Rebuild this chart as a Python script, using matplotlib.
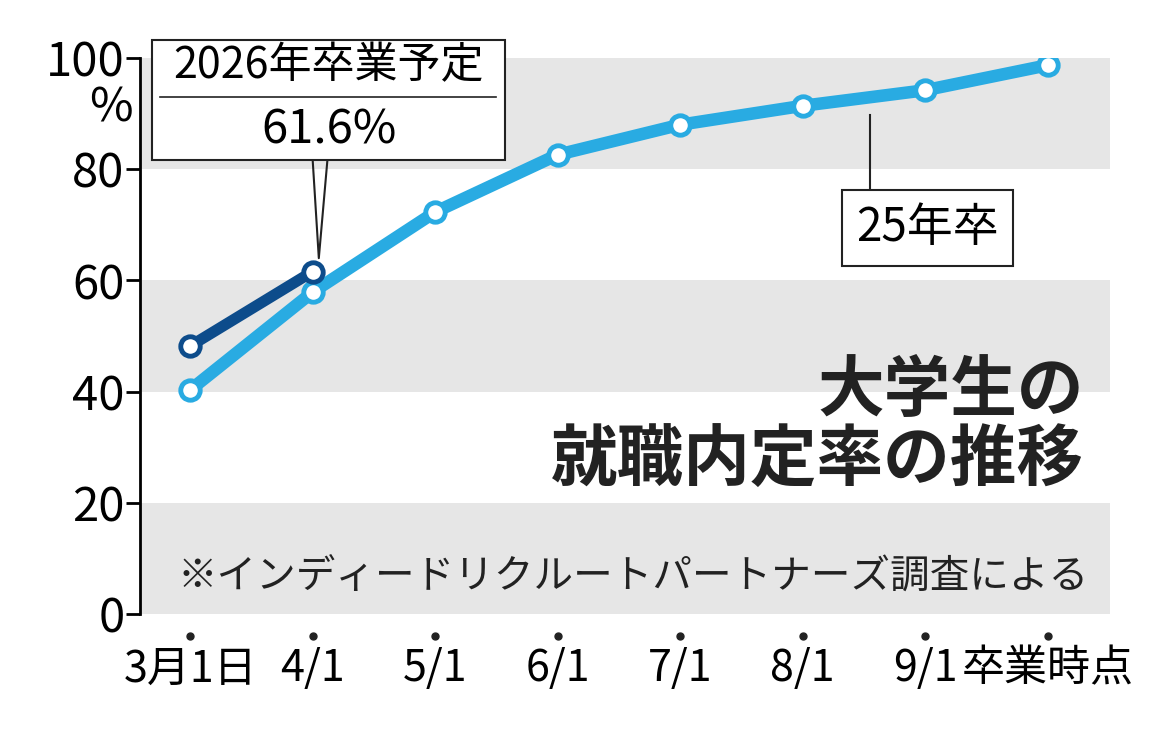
import matplotlib
matplotlib.use("Agg")
import matplotlib.pyplot as plt
from matplotlib.patches import Rectangle

plt.rcParams["font.family"] = ["Noto Sans CJK JP", "DejaVu Sans"]

categories = ["3月1日", "4/1", "5/1", "6/1", "7/1", "8/1", "9/1", "卒業時点"]
rate_25 = [40.3, 57.9, 72.3, 82.6, 88.0, 91.4, 94.2, 98.7]
rate_26 = [48.2, 61.6]
yticks = [0, 20, 40, 60, 80, 100]

fig = plt.figure(figsize=(11.6, 7.34), dpi=100)
ax = fig.add_axes([140/1160, 120/734, 970/1160, 556/734])
x = list(range(len(categories)))
ax.set_xlim(-0.41, 7.51)
ax.set_ylim(0, 100)
for lo in (0, 40, 80):
    ax.axhspan(lo, lo + 20, color="#e6e6e6", zorder=0, lw=0)
ax.plot(x, rate_25, color="#29abe2", lw=9, zorder=2, solid_capstyle="round")
ax.plot(x, rate_25, "o", ms=14, mfc="white", mec="#29abe2", mew=3.5, zorder=3)
ax.plot(x[:2], rate_26, color="#0d4c8b", lw=8, zorder=4, solid_capstyle="round")
ax.plot(x[:2], rate_26, "o", ms=14, mfc="white", mec="#0d4c8b", mew=3.5, zorder=5)

for s in ["top", "right", "bottom"]:
    ax.spines[s].set_visible(False)
ax.spines["left"].set_linewidth(2)
ax.set_yticks(yticks)
ax.set_yticklabels([str(v) for v in yticks], fontsize=34)
ax.tick_params(axis="y", length=10, width=2, pad=1)
ax.set_xticks(x)
ax.set_xticklabels(categories, fontsize=31)
ax.tick_params(axis="x", length=0, pad=24)
for xi in x:
    ax.plot(xi, -4, "o", ms=5, color="#222", clip_on=False)
ax.text(-0.65, 91, "%", fontsize=34, ha="center", va="center")

# 2026 label box
ax.text(1.13, 98.5, "2026年卒業予定", fontsize=31, ha="center", va="center", zorder=6)
ax.text(1.13, 87, "61.6%", fontsize=34, ha="center", va="center", zorder=6)
ax.add_patch(Rectangle((-0.31, 81.6), 2.88, 21.6, fill=True, fc="white", ec="#222", lw=1.5, zorder=5, clip_on=False))
ax.plot([-0.25, 2.5], [93, 93], color="#222", lw=1.2, zorder=6)
ax.plot([1.0, 1.05, 1.12], [81.6, 64, 81.6], color="#222", lw=1.5, zorder=6)

# 25年卒 label
ax.plot([5.55, 5.55], [89.7, 76], color="#222", lw=1.5, zorder=6)
ax.text(6.02, 69.4, "25年卒", fontsize=33, ha="center", va="center", zorder=6,
        bbox=dict(boxstyle="square,pad=0.3", fc="white", ec="#222", lw=1.5))

ax.text(7.3, 40, "大学生の", fontsize=48, fontweight="bold", ha="right", va="center", color="#222")
ax.text(7.3, 27.5, "就職内定率の推移", fontsize=48, fontweight="bold", ha="right", va="center", color="#222")
ax.text(-0.1, 6.5, "※インディードリクルートパートナーズ調査による", fontsize=28.5, ha="left", va="center", color="#222")

fig.savefig("out.png", dpi=100)
